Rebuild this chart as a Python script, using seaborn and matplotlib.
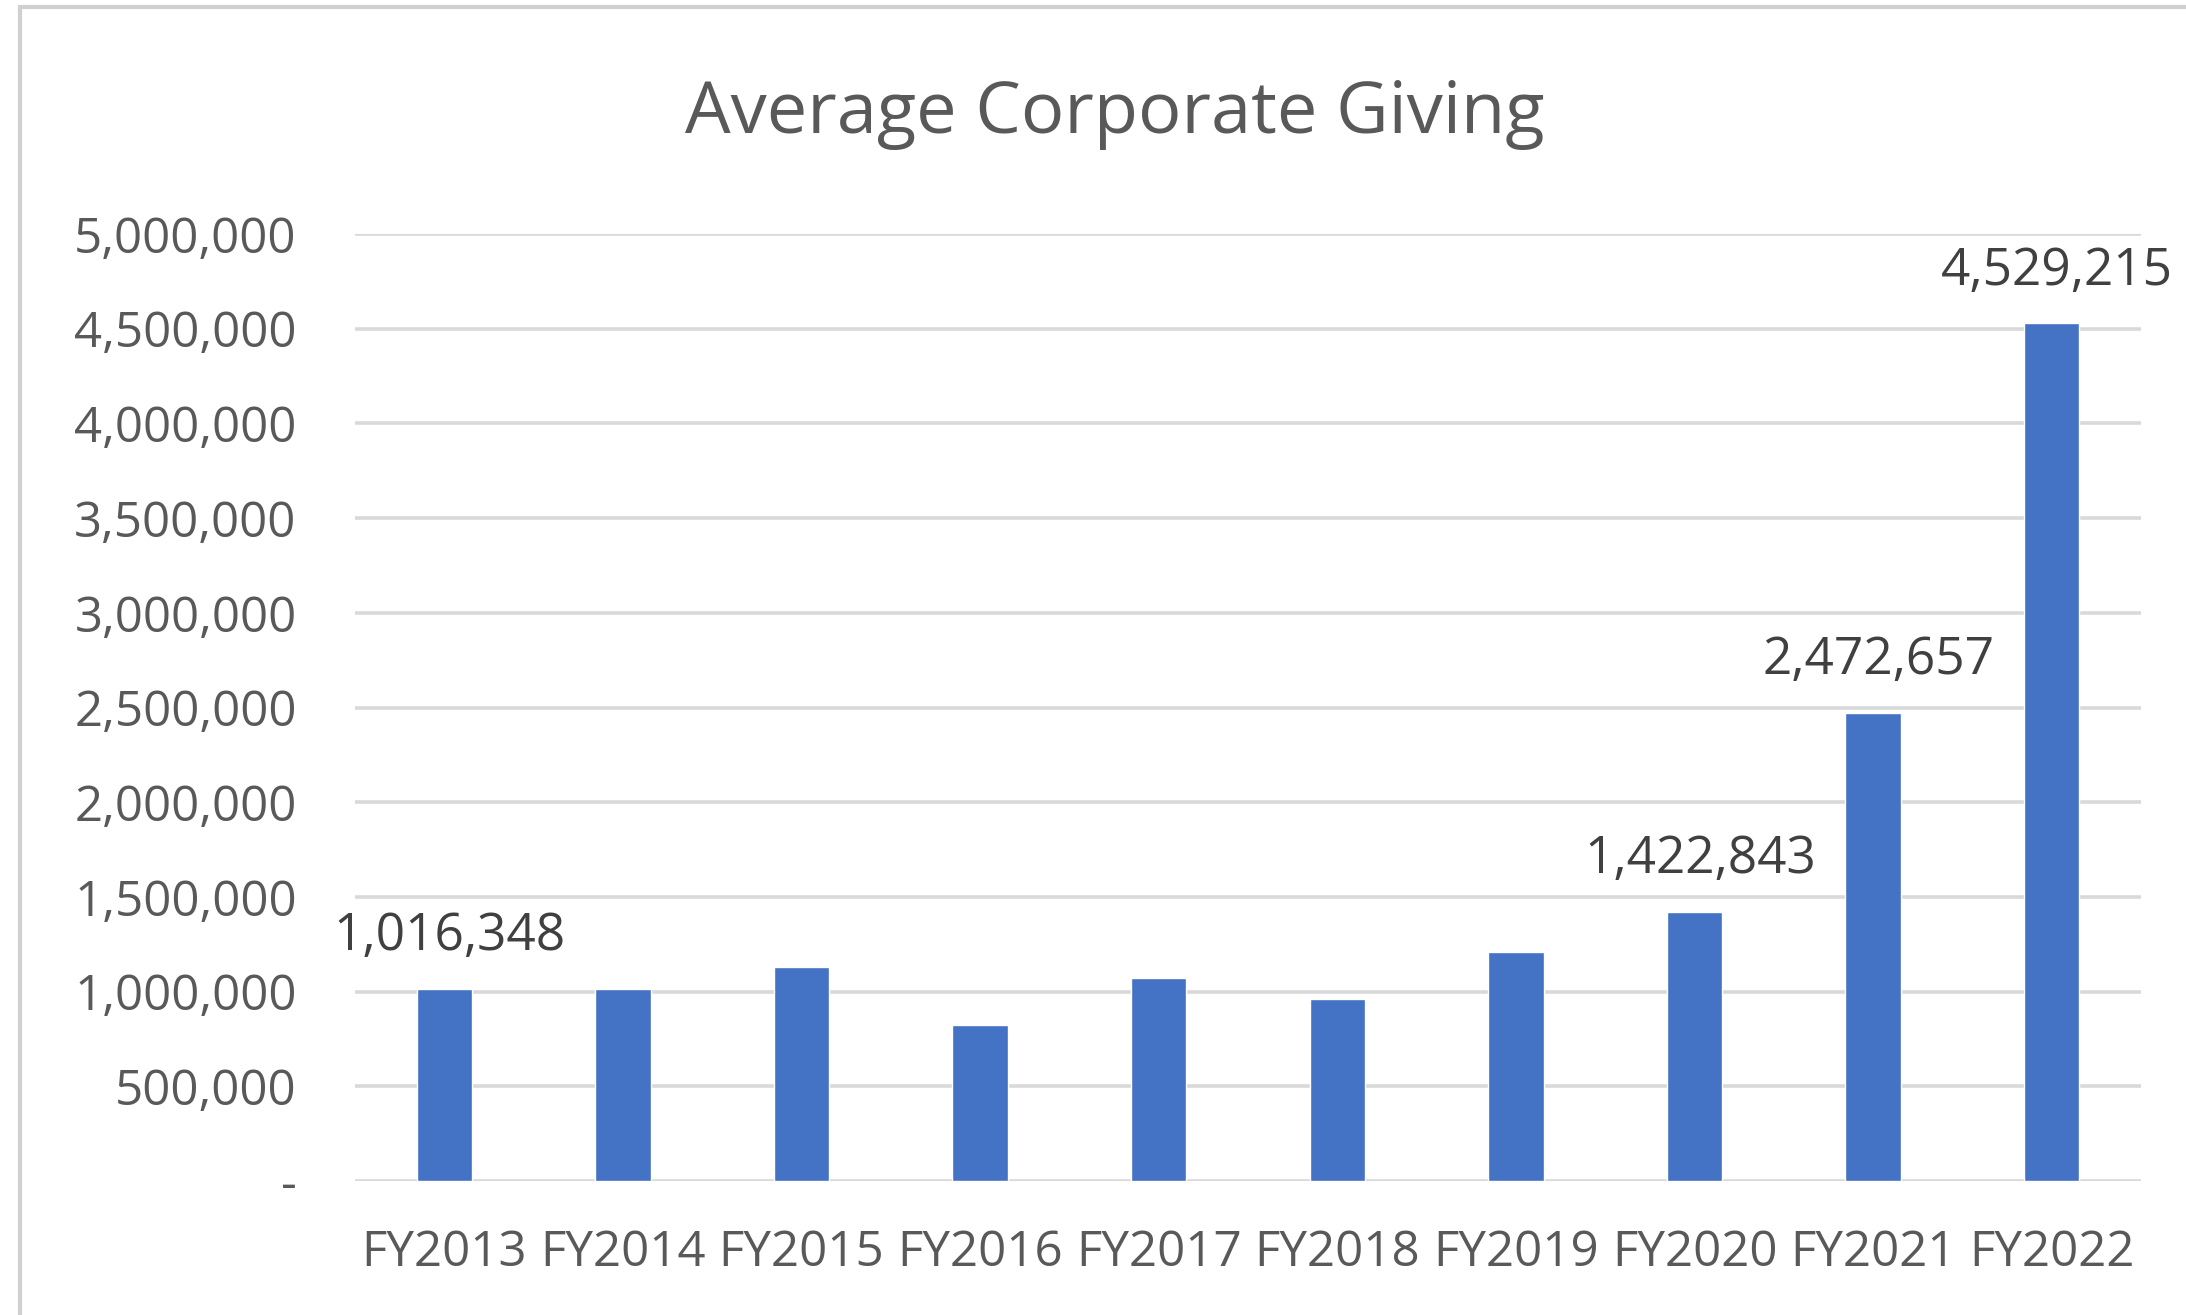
import matplotlib
matplotlib.use("Agg")
import matplotlib.pyplot as plt
import seaborn as sns
import pandas as pd
from matplotlib.patches import Rectangle
from matplotlib.ticker import FuncFormatter

categories = ["FY2013", "FY2014", "FY2015", "FY2016", "FY2017",
              "FY2018", "FY2019", "FY2020", "FY2021", "FY2022"]
values = [1016348, 1012000, 1132000, 826000, 1070000,
          963000, 1209000, 1422843, 2472657, 4529215]
labeled = ["FY2013", "FY2020", "FY2021", "FY2022"]
y_ticks = [0, 500000, 1000000, 1500000, 2000000, 2500000,
           3000000, 3500000, 4000000, 4500000, 5000000]
title = "Average Corporate Giving"

sns.set_theme(style="white")
plt.rcParams['font.family'] = ['Open Sans', 'DejaVu Sans']

W, H = 2186, 1315
fig = plt.figure(figsize=(W / 100, H / 100), dpi=100)
fig.patch.set_facecolor("white")

# outer chart border (cropped on right/bottom)
fig.add_artist(Rectangle((20 / W, -0.1), 1.2, 1 - 7 / H + 0.1,
                         transform=fig.transFigure, fill=False,
                         edgecolor="#d0d0d0", linewidth=3))

ax = fig.add_axes([355 / W, 1 - 1181 / H, (2141 - 355) / W, (1181 - 234) / H])
df = pd.DataFrame({"year": categories, "value": values})
sns.barplot(data=df, x="year", y="value", color="#4472C4", width=0.31,
            saturation=1, ax=ax, zorder=3)

ax.set_xlim(-0.5, len(categories) - 0.5)
ax.set_ylim(0, 5000000)
ax.set_yticks(y_ticks)
ax.yaxis.set_major_formatter(FuncFormatter(lambda v, p: "-" if v == 0 else f"{int(v):,}"))
ax.grid(axis="y", color="#d9d9d9", linewidth=2.6, zorder=0)
ax.set_axisbelow(True)
for s in ax.spines.values():
    s.set_visible(False)
ax.set_xlabel("")
ax.set_ylabel("")
ax.tick_params(axis="y", length=0, pad=42, labelsize=35.5, labelcolor="#595959")
ax.tick_params(axis="x", length=0, pad=34, labelsize=35.5, labelcolor="#595959")

for i, (c, v) in enumerate(zip(categories, values)):
    if c in labeled:
        ax.annotate(f"{v:,}", (i, v), xytext=(4, 19), textcoords="offset points",
                    ha="center", va="bottom", fontsize=37, color="#404040")

fig.text(1115 / W, 1 - 114 / H, title, ha="center", va="center",
         fontsize=52, color="#595959")

fig.savefig("out.png", dpi=100)
